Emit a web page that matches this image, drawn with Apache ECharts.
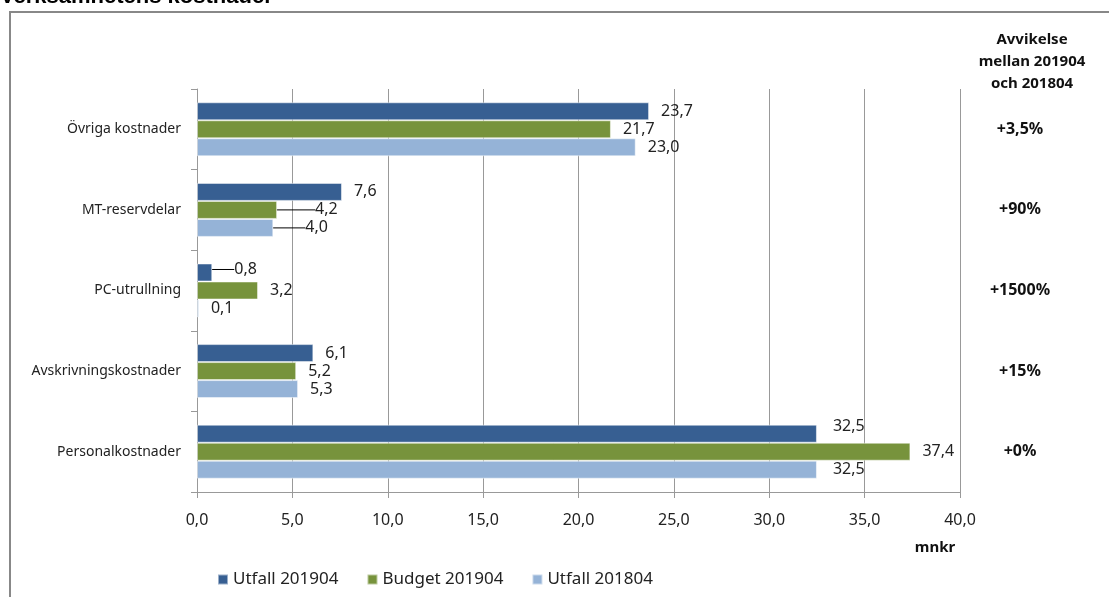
<!DOCTYPE html>
<html>
<head>
<meta charset="utf-8">
<script src="https://cdn.jsdelivr.net/npm/echarts@6/dist/echarts.min.js"></script>
<style>
  html, body { margin: 0; padding: 0; background: #fff; }
  #chart { width: 1109px; height: 597px; }
</style>
</head>
<body>
<div id="chart"></div>
<script>
// kategorier uppifrån och ned
var categories = ['Övriga kostnader', 'MT-reservdelar', 'PC-utrullning', 'Avskrivningskostnader', 'Personalkostnader'];
var utfall201904 = [23.7, 7.6, 0.8, 6.1, 32.5];
var budget201904 = [21.7, 4.2, 3.2, 5.2, 37.4];
var utfall201804 = [23.0, 4.0, 0.1, 5.3, 32.5];
var avvikelse = ['+3,5%', '+90%', '+1500%', '+15%', '+0%'];

var font = '"Noto Sans", sans-serif';

// flyttade etiketter (som i Excel), per serie och kategori: [dx, dy, linje]
var labelMoves = {
    0: { 2: [10, -3, true], 4: [4, -7, false] },
    1: { 1: [26, 0, true] },
    2: { 1: [20, 0, true], 4: [4, 0, false] }
};

var chart = echarts.init(document.getElementById('chart'));

function fmt(v) {
    return v.toFixed(1).replace('.', ',');
}

function makeSeries(name, data, color, idx) {
    var items = data.map(function (v, i) {
        var m = labelMoves[idx] && labelMoves[idx][i];
        return { value: v, labelLine: { show: !!(m && m[2]) } };
    });
    return {
        name: name,
        type: 'bar',
        data: items,
        yAxisIndex: 0,
        barGap: '0%',
        barCategoryGap: '33%',
        itemStyle: { color: color, borderColor: 'rgba(255,255,255,0.5)', borderWidth: 1 },
        label: {
            show: true,
            position: 'right',
            distance: 12,
            fontFamily: font,
            fontSize: 16,
            color: '#222',
            formatter: function (p) { return fmt(p.value); }
        },
        labelLine: { show: false, lineStyle: { color: '#000', width: 1 } },
        labelLayout: function (p) {
            var m = labelMoves[idx] && labelMoves[idx][p.dataIndex];
            if (!m) return {};
            return { dx: m[0], dy: m[1] };
        }
    };
}

var option = {
    backgroundColor: '#fff',
    animation: false,
    grid: { left: 197, right: 149, top: 89, bottom: 105 },
    legend: {
        data: ['Utfall 201904', 'Budget 201904', 'Utfall 201804'],
        left: 212,
        top: 566,
        itemWidth: 10,
        itemHeight: 10,
        itemGap: 28,
        icon: 'rect',
        textStyle: { fontFamily: font, fontSize: 17, color: '#222' }
    },
    xAxis: {
        type: 'value',
        min: 0,
        max: 40,
        interval: 5,
        axisLine: { show: true, lineStyle: { color: '#999' } },
        axisTick: { show: true, length: 6, lineStyle: { color: '#999' } },
        splitLine: { show: true, lineStyle: { color: '#999' } },
        axisLabel: {
            margin: 20,
            fontFamily: font,
            fontSize: 16,
            color: '#222',
            formatter: function (v) { return fmt(v); }
        }
    },
    yAxis: [{
        type: 'category',
        inverse: true,
        data: categories,
        axisLine: { show: true, lineStyle: { color: '#999' } },
        axisTick: { show: true, length: 6, lineStyle: { color: '#999' } },
        axisLabel: { margin: 16, fontFamily: font, fontSize: 14, color: '#222' }
    }, {
        type: 'category',
        inverse: true,
        position: 'right',
        data: avvikelse,
        axisLine: { show: false },
        axisTick: { show: false },
        axisLabel: {
            margin: 60,
            align: 'center',
            fontFamily: font,
            fontSize: 16,
            fontWeight: 'bold',
            color: '#111'
        }
    }],
    graphic: [
        {
            type: 'rect',
            shape: { x: 10, y: 12, width: 1120, height: 620 },
            style: { fill: 'none', stroke: '#888', lineWidth: 2 },
            silent: true
        },
        {
            type: 'text',
            x: 0,
            y: -14,
            style: {
                text: 'Verksamhetens kostnader',
                font: 'bold 22px "Liberation Sans", Arial, sans-serif',
                fill: '#000'
            }
        },
        {
            type: 'text',
            x: 1032,
            y: 29,
            style: {
                text: 'Avvikelse\nmellan 201904\noch 201804',
                font: 'bold 15px ' + font,
                lineHeight: 22,
                align: 'center',
                fill: '#111'
            }
        },
        {
            type: 'text',
            x: 935,
            y: 540,
            style: {
                text: 'mnkr',
                font: 'bold 15px ' + font,
                align: 'center',
                fill: '#111'
            }
        }
    ],
    series: [
        makeSeries('Utfall 201904', utfall201904, '#375f92', 0),
        makeSeries('Budget 201904', budget201904, '#77933c', 1),
        makeSeries('Utfall 201804', utfall201804, '#95b3d7', 2)
    ]
};

chart.setOption(option);
</script>
</body>
</html>
